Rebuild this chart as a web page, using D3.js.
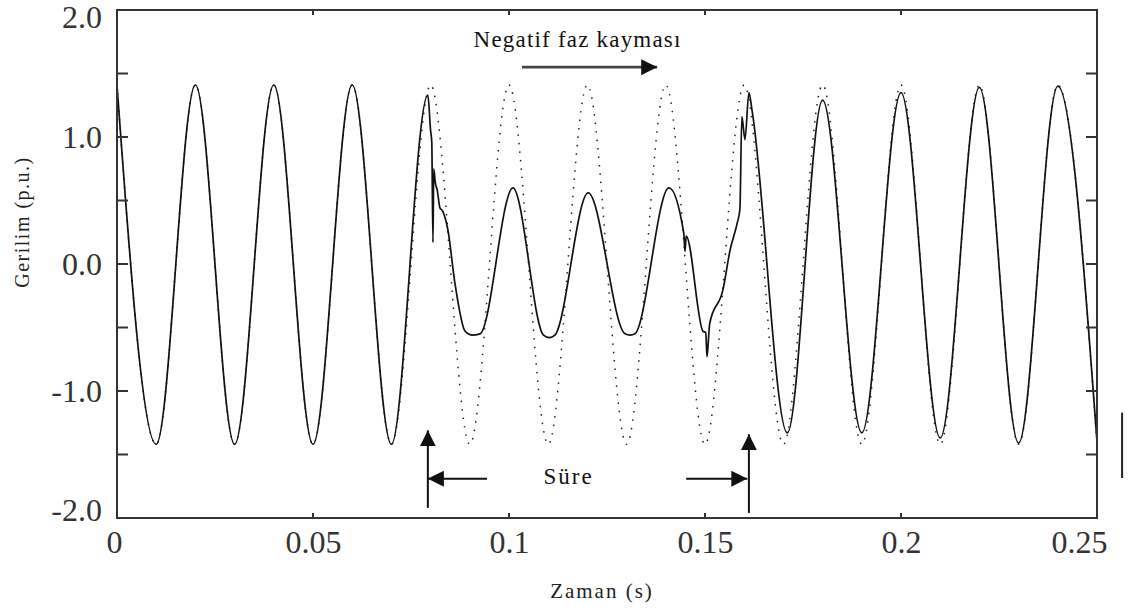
<!DOCTYPE html>
<html><head><meta charset="utf-8">
<script src="https://cdn.jsdelivr.net/npm/d3@7"></script>
<style>
body{margin:0;background:#fff;}
svg{display:block;}
</style></head><body>
<svg id="chart" width="1129" height="613"></svg>
<script>
// ---- data ----
// measured voltage (solid line): extrema + transient points
const timeSolid = [0, 0.01, 0.02, 0.03, 0.04, 0.05, 0.06, 0.07,
  0.0793, 0.0800, 0.0803, 0.0806, 0.0808, 0.0812, 0.0817, 0.0824, 0.0830, 0.0844, 0.0862, 0.0888, 0.0905, 0.0926,
  0.1010, 0.1088, 0.1103, 0.1117, 0.1202, 0.1296, 0.1309, 0.1321, 0.1408,
  0.1446, 0.1449, 0.1452, 0.1495, 0.1502, 0.1505, 0.1512, 0.1546, 0.1564, 0.1582, 0.1589,
  0.1594, 0.1602, 0.1612, 0.1620, 0.1710, 0.1800, 0.1900, 0.2000, 0.2100, 0.2200, 0.2300, 0.2400, 0.2500];
const voltSolid = [1.41, -1.42, 1.41, -1.42, 1.41, -1.42, 1.41, -1.42,
  1.33, 1.05, 0.96, 0.17, 0.75, 0.64, 0.58, 0.44, 0.42, 0.27, -0.15, -0.53, -0.56, -0.55,
  0.60, -0.56, -0.58, -0.56, 0.56, -0.55, -0.56, -0.55, 0.60,
  0.24, 0.10, 0.22, -0.53, -0.54, -0.73, -0.47, -0.20, 0.11, 0.32, 0.43,
  1.16, 0.98, 1.35, 1.21, -1.33, 1.29, -1.33, 1.35, -1.37, 1.39, -1.41, 1.40, -1.40];
// pre-fault reference wave (dotted line): extrema
const timeRef = [0, 0.01, 0.02, 0.03, 0.04, 0.05, 0.06, 0.07, 0.08, 0.09, 0.10, 0.11, 0.12,
  0.13, 0.14, 0.15, 0.16, 0.17, 0.18, 0.19, 0.20, 0.21, 0.22, 0.23, 0.24, 0.25];
const voltRef = [1.41, -1.42, 1.41, -1.42, 1.41, -1.42, 1.41, -1.42, 1.41, -1.42, 1.41, -1.42, 1.41,
  -1.42, 1.41, -1.42, 1.41, -1.42, 1.41, -1.42, 1.41, -1.42, 1.41, -1.42, 1.41, -1.42];
// stray trace fragment outside the frame
const timeStray = [0.2564, 0.2564];
const voltStray = [-1.17, -1.685];

const xTickValues = [0, 0.05, 0.1, 0.15, 0.2, 0.25];
const xTickLabels = ["0", "0.05", "0.1", "0.15", "0.2", "0.25"];
const yTickValues = [-2, -1, 0, 1, 2];
const yTickLabels = ["-2.0", "-1.0", "0.0", "1.0", "2.0"];
const yMinorTicks = [-1.5, -1, -0.5, 0, 0.5, 1, 1.5];
const xMinorTicks = [0.05, 0.1, 0.15, 0.2];

// annotations in data units: [t, v]
const phaseArrow = [[0.1033, 1.55], [0.1378, 1.55]];
const phaseText = {t: 0.1175, v: 1.71, label: "Negatif faz kayması"};
const dureeText = {t: 0.1152, v: -1.73, label: "Süre"};
const startArrowV = [[0.0793, -1.92], [0.0793, -1.31]];
const startArrowH = [[0.0944, -1.69], [0.0793, -1.69]];
const endArrowV = [[0.1612, -1.96], [0.1612, -1.34]];
const endArrowH = [[0.1452, -1.69], [0.1608, -1.69]];

// ---- chart ----
const FONT = "'Liberation Serif', 'Times New Roman', serif";
const W = 1129, H = 613;
const m = {l: 117, t: 10, r: 32, b: 95};
const svg = d3.select("#chart");
const x = d3.scaleLinear().domain([0, 0.25]).range([m.l, W - m.r]);
const y = d3.scaleLinear().domain([-2, 2]).range([H - m.b, m.t]);

svg.append("defs").append("clipPath").attr("id", "clip")
  .append("rect").attr("x", m.l).attr("y", m.t)
  .attr("width", x(0.25) - m.l).attr("height", y(-2) - m.t);

const line = d3.line().x(d => x(d[0])).y(d => y(d[1])).curve(d3.curveMonotoneX);
const refData = timeRef.map((t, i) => [t, voltRef[i]]);
const solidData = timeSolid.map((t, i) => [t, voltSolid[i]]);

const plot = svg.append("g").attr("clip-path", "url(#clip)");
plot.append("path").datum(refData).attr("d", line)
  .attr("fill", "none").attr("stroke", "#222").attr("stroke-width", 1.5)
  .attr("stroke-dasharray", "1.5 7");
plot.append("path").datum(solidData).attr("d", line)
  .attr("fill", "none").attr("stroke", "#111").attr("stroke-width", 1.7)
  .attr("stroke-linejoin", "round");

// stray trace outside frame
svg.append("path").datum(timeStray.map((t, i) => [t, voltStray[i]]))
  .attr("d", d3.line().x(d => x(d[0])).y(d => y(d[1])))
  .attr("stroke", "#222").attr("stroke-width", 2).attr("fill", "none");

// frame
svg.append("rect").attr("x", m.l).attr("y", m.t)
  .attr("width", x(0.25) - m.l).attr("height", y(-2) - m.t)
  .attr("fill", "none").attr("stroke", "#333").attr("stroke-width", 2);

// inward ticks
const tickG = svg.append("g").attr("stroke", "#333").attr("stroke-width", 2);
yMinorTicks.forEach(v => {
  tickG.append("line").attr("x1", m.l).attr("x2", m.l + 11).attr("y1", y(v)).attr("y2", y(v));
  tickG.append("line").attr("x1", x(0.25) - 11).attr("x2", x(0.25)).attr("y1", y(v)).attr("y2", y(v));
});
xMinorTicks.forEach(t => {
  tickG.append("line").attr("x1", x(t)).attr("x2", x(t)).attr("y1", y(-2)).attr("y2", y(-2) - 5);
  tickG.append("line").attr("x1", x(t)).attr("x2", x(t)).attr("y1", y(2)).attr("y2", y(2) + 5);
});

// tick labels via axes
const yAxis = svg.append("g").attr("transform", `translate(${m.l},0)`)
  .call(d3.axisLeft(y).tickValues(yTickValues).tickSize(0).tickPadding(15)
    .tickFormat((d, i) => yTickLabels[i]));
yAxis.select(".domain").remove();
yAxis.attr("font-family", FONT);
yAxis.selectAll("text").attr("font-size", 32).attr("fill", "#333").style("font-family", FONT);
yAxis.selectAll(".tick").filter(d => d === 2).select("text").attr("dy", "0.54em");
yAxis.selectAll(".tick").filter(d => d === -2).select("text").attr("dy", "0.07em");

const xAxis = svg.append("g").attr("transform", `translate(0,${y(-2)})`)
  .call(d3.axisBottom(x).tickValues(xTickValues).tickSize(0).tickPadding(12)
    .tickFormat((d, i) => xTickLabels[i]));
xAxis.select(".domain").remove();
xAxis.attr("font-family", FONT);
xAxis.selectAll("text").attr("font-size", 32).attr("fill", "#333").style("font-family", FONT);
xAxis.selectAll(".tick").filter(d => d === 0).select("text").attr("dx", "-3");
xAxis.selectAll(".tick").filter(d => d === 0.25).select("text").attr("dx", "-18");

// axis titles
svg.append("text").attr("transform", `translate(29,222) rotate(-90)`)
  .attr("text-anchor", "middle").attr("font-size", 20).attr("letter-spacing", 1.5)
  .style("font-family", FONT).attr("fill", "#222").text("Gerilim (p.u.)");
svg.append("text").attr("x", 602).attr("y", 598)
  .attr("text-anchor", "middle").attr("font-size", 21).attr("letter-spacing", 2)
  .style("font-family", FONT).attr("fill", "#222").text("Zaman (s)");

// annotations
svg.append("defs").append("marker").attr("id", "head")
  .attr("viewBox", "0 0 10 10").attr("refX", 10).attr("refY", 5)
  .attr("markerUnits", "userSpaceOnUse").attr("markerWidth", 16).attr("markerHeight", 17)
  .attr("orient", "auto")
  .append("path").attr("d", "M0,0 L10,5 L0,10 Z").attr("fill", "#111");

const aLine = d3.line().x(d => x(d[0])).y(d => y(d[1]));
[phaseArrow, startArrowV, startArrowH, endArrowV, endArrowH].forEach((a, i) => {
  svg.append("path").datum(a).attr("d", aLine)
    .attr("stroke", i === 0 ? "#444" : "#111").attr("stroke-width", i === 0 ? 2.6 : 2)
    .attr("fill", "none").attr("marker-end", "url(#head)");
});
svg.append("text").attr("x", x(phaseText.t)).attr("y", y(phaseText.v))
  .attr("text-anchor", "middle").attr("font-size", 23).attr("letter-spacing", 1.2)
  .style("font-family", FONT).attr("fill", "#111").text(phaseText.label);
svg.append("text").attr("x", x(dureeText.t)).attr("y", y(dureeText.v))
  .attr("text-anchor", "middle").attr("font-size", 23).attr("letter-spacing", 2)
  .style("font-family", FONT).attr("fill", "#111").text(dureeText.label);
</script>
</body></html>
